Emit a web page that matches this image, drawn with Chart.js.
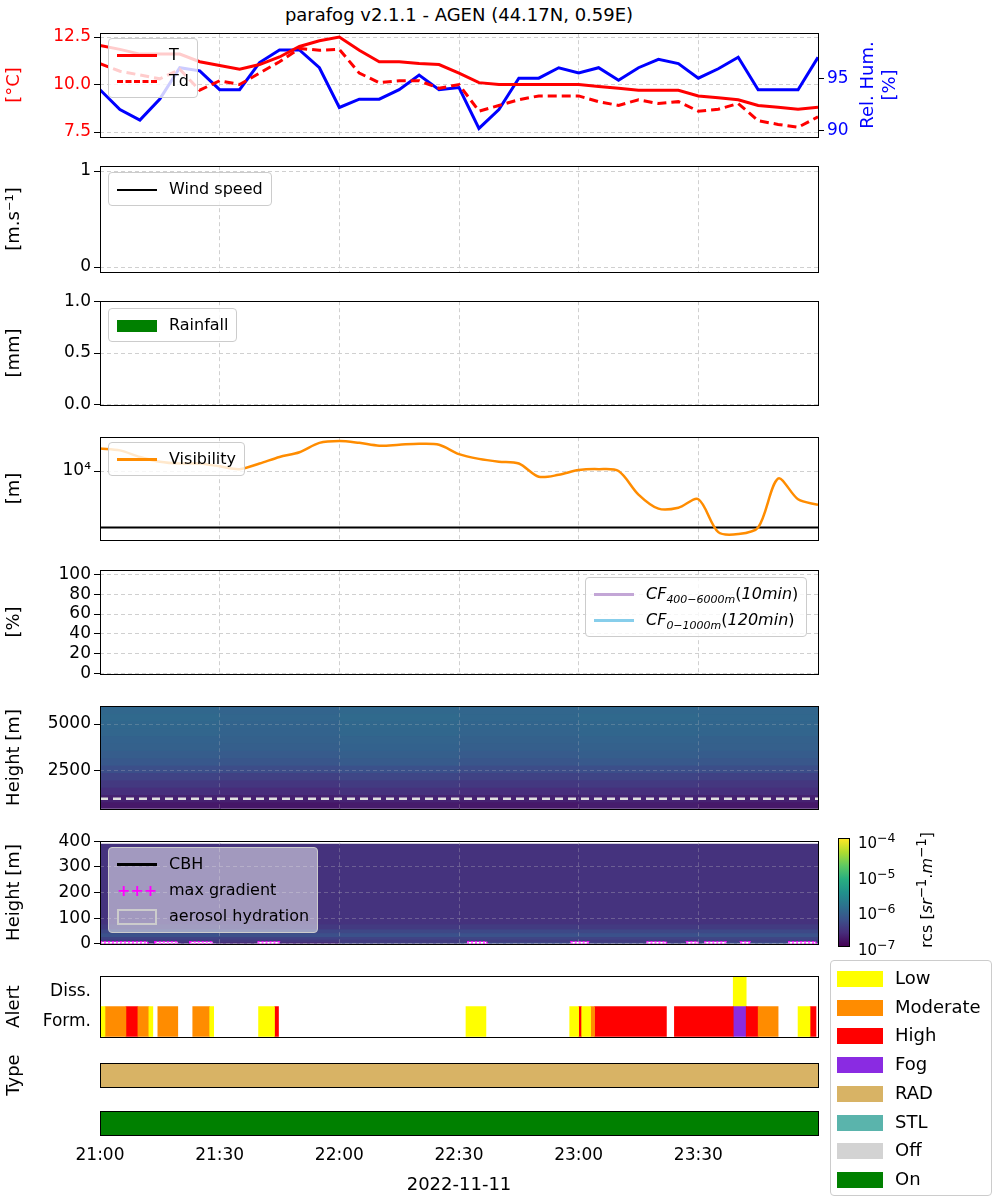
<!DOCTYPE html>
<html>
<head>
<meta charset="utf-8">
<script src="https://cdn.jsdelivr.net/npm/chart.js@4.4.1/dist/chart.umd.min.js"></script>
<style>
  body { margin:0; width:1000px; height:1200px; background:#fff; position:relative; font-family:"DejaVu Sans", sans-serif; overflow:hidden; }
  canvas { position:absolute; left:0; }
  .lg { position:absolute; background:rgba(255,255,255,0.8); border:1px solid #ccc; border-radius:4px; font-size:16px; color:#000; padding:3px 8px; }
  .lg div { height:26px; line-height:26px; white-space:nowrap; }
  .sw { display:inline-block; width:40px; vertical-align:middle; margin-right:12px; }
  .txt { position:absolute; white-space:nowrap; }
</style>
</head>
<body>
<div class="txt" style="left:0;width:918px;top:4px;text-align:center;font-size:18px;">parafog v2.1.1 - AGEN (44.17N, 0.59E)</div>

<canvas id="c1"></canvas><canvas id="c2"></canvas><canvas id="c3"></canvas><canvas id="c4"></canvas>
<canvas id="c5"></canvas><canvas id="c6"></canvas><canvas id="c7"></canvas><canvas id="c8"></canvas>
<canvas id="c9"></canvas><canvas id="c10"></canvas>

<div class="txt" style="transform:rotate(-90deg);transform-origin:0 0;color:#00f;font-size:18px;text-align:center;width:110px;line-height:22px;left:856px;top:140px;">Rel. Hum.<br>[%]</div>

<!-- legends -->
<div class="lg" style="left:108px;top:38px;">
  <div><span class="sw" style="border-top:3px solid #f00;"></span>T</div>
  <div><span class="sw" style="border-top:3px dashed #f00;"></span>Td</div>
</div>
<div class="lg" style="left:108px;top:172px;"><div><span class="sw" style="border-top:2px solid #000;"></span>Wind speed</div></div>
<div class="lg" style="left:108px;top:308px;"><div><span class="sw" style="height:12px;background:#008000;"></span>Rainfall</div></div>
<div class="lg" style="left:108px;top:442px;"><div><span class="sw" style="border-top:3px solid #ff8c00;"></span>Visibility</div></div>
<div class="lg" style="left:585px;top:577px;">
  <div><span class="sw" style="border-top:3px solid #c3a6d6;"></span><i>CF</i><sub style="font-size:11px"><i>400−6000m</i></sub>(<i>10min</i>)</div>
  <div><span class="sw" style="border-top:3px solid #87ceeb;"></span><i>CF</i><sub style="font-size:11px"><i>0−1000m</i></sub>(<i>120min</i>)</div>
</div>
<div class="lg" style="left:108px;top:847px;background:rgba(255,255,255,0.5);">
  <div><span class="sw" style="border-top:3px solid #000;"></span>CBH</div>
  <div><span class="sw" style="color:#f0f;font-weight:bold;border:none;text-align:center;">+++</span>max gradient</div>
  <div><span class="sw" style="height:12px;border:2px solid #ccc;width:36px;"></span>aerosol hydration</div>
</div>

<!-- colorbar -->
<div style="position:absolute;left:838px;top:838px;width:12px;height:109px;border:1px solid #000;box-sizing:border-box;background:linear-gradient(to top,#440154,#472d7b,#3b528b,#2c728e,#21918c,#28ae80,#5ec962,#addc30,#fde725);"></div>
<div class="txt" style="left:858px;top:830px;font-size:15px;">10<sup>−4</sup></div>
<div class="txt" style="left:858px;top:866px;font-size:15px;">10<sup>−5</sup></div>
<div class="txt" style="left:858px;top:901px;font-size:15px;">10<sup>−6</sup></div>
<div class="txt" style="left:858px;top:937px;font-size:15px;">10<sup>−7</sup></div>
<div class="txt" style="left:914px;top:950px;transform:rotate(-90deg);transform-origin:0 0;font-size:16px;width:120px;text-align:center;">rcs [<i>sr</i><sup>−1</sup>.<i>m</i><sup>−1</sup>]</div>

<!-- right legend -->
<div id="rlg" style="position:absolute;left:830px;top:960px;width:160px;height:234px;border:1px solid #ccc;border-radius:4px;font-size:18px;"></div>

<script>
// ---- data ----
const timeMin = [0,5,10,15,20,25,30,35,40,45,50,55,60,65,70,75,80,85,90,95,100,105,110,115,120,125,130,135,140,145,150,155,160,165,170,175,180];
const temp = [12.05,11.85,11.6,11.6,11.6,11.2,11.0,10.8,11.05,11.45,12.0,12.3,12.5,11.8,11.2,11.2,11.1,11.05,10.6,10.1,10.0,10.0,10.0,10.0,10.0,9.9,9.8,9.7,9.7,9.7,9.4,9.3,9.2,8.9,8.8,8.7,8.8];
const dewPoint = [11.1,10.7,10.5,10.3,10.8,9.7,10.2,10.0,10.6,11.2,11.9,11.8,11.85,10.6,10.1,10.2,10.2,9.8,10.0,8.6,8.9,9.2,9.4,9.4,9.4,9.1,8.9,9.2,9.0,9.1,8.6,8.7,9.0,8.1,7.9,7.75,8.3];
const relHum = [93.9,92.0,91.0,93.0,96.0,95.7,93.9,93.9,96.5,97.7,97.7,96.0,92.2,93.0,93.0,93.9,95.3,93.9,94.1,90.2,92.0,95.0,95.0,96.0,95.5,96.0,94.8,96.0,96.8,96.4,95.0,95.9,97.0,93.9,93.9,93.9,97.0];
const visibility = [25119,23270,17783,14678,13594,13594,12115,10798,13594,17783,21544,31623,34145,31623,28184,29286,30430,29286,19953,16448,14678,13594,7943,8577,10391,10798,10000,3831,2154,2239,3162,826,764,1000,7356,3162,2512];
const visThreshold = 1000;

const heatTimeEdges = [0,30,60,90,120,150,180];
const heatHeightEdges = [400,800,1200,1600,2000,2400,2800,3200,3600,4000,4400,4800,5200,5600,6000];
const heatValues = [
  [-6.80,-6.82,-6.78,-6.80,-6.76,-6.80],
  [-6.72,-6.74,-6.70,-6.72,-6.69,-6.72],
  [-6.60,-6.63,-6.57,-6.61,-6.59,-6.60],
  [-6.50,-6.53,-6.48,-6.51,-6.49,-6.52],
  [-6.40,-6.43,-6.37,-6.41,-6.39,-6.42],
  [-6.28,-6.30,-6.26,-6.30,-6.28,-6.29],
  [-6.18,-6.20,-6.15,-6.20,-6.17,-6.19],
  [-6.12,-6.14,-6.10,-6.14,-6.11,-6.13],
  [-6.08,-6.10,-6.06,-6.10,-6.07,-6.09],
  [-6.06,-6.08,-6.04,-6.08,-6.05,-6.07],
  [-6.02,-6.05,-6.00,-6.04,-6.01,-6.03],
  [-6.00,-6.04,-5.99,-6.03,-6.00,-6.02],
  [-5.98,-6.02,-5.97,-6.00,-5.98,-6.00],
  [-6.00,-6.04,-5.99,-6.02,-6.00,-6.02]
];
const lowHeightEdges = [0,10,20,30,45,60,80,390];
const lowValues = [
  [-6.60,-6.65,-6.45,-6.35,-6.40,-6.30],
  [-6.50,-6.52,-6.48,-6.45,-6.47,-6.42],
  [-6.40,-6.42,-6.40,-6.38,-6.40,-6.38],
  [-6.25,-6.27,-6.26,-6.25,-6.26,-6.24],
  [-6.35,-6.37,-6.36,-6.35,-6.36,-6.35],
  [-6.48,-6.50,-6.49,-6.48,-6.49,-6.48],
  [-6.56,-6.57,-6.56,-6.57,-6.56,-6.57]
];
const hydrationSegs = [[0,12],[13.75,19.5],[22.5,28.25],[39.5,45],[92,97],[118,122.5],[137,142],[147,150],[151.5,157],[160.5,163],[172.5,179.5]];

const alertLow = [[0,1.25],[12.25,13.25],[27.5,28.5],[39.75,43.75],[91.75,96.75],[117.75,120],[120.75,123],[175,178]];
const alertModerate = [[1.25,6.5],[9.5,12.25],[14.5,19.5],[23.25,27.5],[123,124],[165,170]];
const alertHigh = [[6.5,9.5],[43.75,44.75],[120,120.75],[124,142],[144,158.75],[162,165],[178,179.5]];
const alertFog = [[158.75,162]];
const dissLow = [[158.75,162]];
const typeRad = [[0,180]];
const stateOn = [[0,180]];

const legendNames = ['Low','Moderate','High','Fog','RAD','STL','Off','On'];
const legendColors = ['#ffff00','#ff8c00','#ff0000','#8a2be2','#d8b365','#5ab4ac','#d3d3d3','#008000'];

// ---- helpers ----
const viridis = ['#440154','#472d7b','#3b528b','#2c728e','#21918c','#28ae80','#5ec962','#addc30','#fde725'];
function cmap(logv) {
  let t = Math.min(1, Math.max(0, (logv + 7) / 3)) * (viridis.length - 1);
  let i = Math.min(viridis.length - 2, Math.floor(t)), f = t - i;
  const a = viridis[i], b = viridis[i+1];
  const c = k => Math.round(parseInt(a.substr(k,2),16)*(1-f) + parseInt(b.substr(k,2),16)*f);
  return 'rgb(' + c(1) + ',' + c(3) + ',' + c(5) + ')';
}
function hhmm(v) {
  let m = 21*60 + v;
  return String(Math.floor(m/60)).padStart(2,'0') + ':' + String(m%60).padStart(2,'0');
}
function xy(ys) { return timeMin.map((t,i) => ({x:t, y:ys[i]})); }
function fixed(vals) { return s => { s.ticks = vals.map(v => ({value:v})); }; }

Chart.defaults.font.family = '"DejaVu Sans", sans-serif';
Chart.defaults.font.size = 17;
Chart.defaults.color = '#000';
Chart.defaults.animation = false;

const boxPlugin = {
  id: 'box',
  beforeDraw(chart) {
    const o = chart.options.plugins.heat;
    if (!o) return;
    const ctx = chart.ctx, xs = chart.scales.x, ys = chart.scales.y, a = chart.chartArea;
    ctx.save();
    ctx.beginPath(); ctx.rect(a.left, a.top, a.right - a.left, a.bottom - a.top); ctx.clip();
    o.values.forEach((row, r) => row.forEach((v, c) => {
      const x0 = xs.getPixelForValue(o.tEdges[c]), x1 = xs.getPixelForValue(o.tEdges[c+1]);
      const y0 = ys.getPixelForValue(o.hEdges[r]), y1 = ys.getPixelForValue(o.hEdges[r+1]);
      ctx.fillStyle = cmap(v);
      ctx.fillRect(x0, y1, x1 - x0 + 1, y0 - y1 + 1);
    }));
    (o.segs || []).forEach(s => {
      const x0 = xs.getPixelForValue(s[0]), x1 = xs.getPixelForValue(s[1]);
      const y0 = ys.getPixelForValue(0), y1 = ys.getPixelForValue(8);
      ctx.fillStyle = '#fff'; ctx.fillRect(x0, y1, x1 - x0, y0 - y1);
      ctx.strokeStyle = '#f0f'; ctx.lineWidth = 1.5; ctx.setLineDash([2,2]); ctx.strokeRect(x0, y1, x1 - x0, y0 - y1);
    });
    ctx.restore();
  },
  afterDraw(chart) {
    const a = chart.chartArea, ctx = chart.ctx;
    ctx.save(); ctx.strokeStyle = '#000'; ctx.lineWidth = 1; ctx.setLineDash([]);
    ctx.strokeRect(Math.round(a.left)+0.5, Math.round(a.top)+0.5, Math.round(a.right-a.left), Math.round(a.bottom-a.top));
    ctx.restore();
  }
};
Chart.register(boxPlugin);

function xScale(showTicks, grid, gridColor) {
  return {
    type:'linear', min:0, max:180,
    afterBuildTicks: fixed([0,30,60,90,120,150]),
    ticks: { display: showTicks, callback: v => hhmm(v), padding: 4, maxRotation: 0, autoSkip:false },
    grid: { display: grid, color: gridColor || '#d0d0d0', drawTicks: showTicks, tickLength: 6, tickColor:'#000' },
    border: { display:false, dash:[4,3] },
    title: showTicks ? { display:true, text:'2022-11-11', font:{size:18}, padding:{top:8} } : {display:false},
    afterFit: s => { s.height = showTicks ? 65 : 0; }
  };
}
function yScale(o) {
  return Object.assign({
    type:'linear',
    grid: { color:'#d0d0d0', drawTicks:true, tickLength:6, tickColor:'#000' },
    border: { display:false, dash:[4,3] },
    afterFit: s => { s.width = 100; }
  }, o);
}
function yTitle(text, color) {
  return { display:true, text:text, color: color || '#000', font:{size:18}, padding:{bottom:4} };
}
function plainTicks(extra) { return Object.assign({ autoSkip:false, callback: v => String(v) }, extra || {}); }

function makeChart(id, top, h, type, data, scales, extra, bottomAxis) {
  const cv = document.getElementById(id);
  const ch = bottomAxis ? 1200 - (top - 10) : h + 20;
  cv.width = 1000; cv.height = ch; cv.style.top = (top - 10) + 'px';
  const rightPad = scales.y2 ? 0 : 182;
  return new Chart(cv, {
    type: type, data: data,
    options: Object.assign({
      responsive:false, maintainAspectRatio:false,
      layout: { padding: { top:10, bottom: bottomAxis ? 0 : 10, right: rightPad, left:0 } },
      plugins: { legend:{display:false}, tooltip:{enabled:false} },
      scales: scales
    }, extra || {})
  });
}

// ---- panel 1: T, Td, RH ----
makeChart('c1', 30, 110, 'line', { datasets: [
  { data: xy(temp), borderColor:'#f00', borderWidth:3, pointRadius:0, yAxisID:'y' },
  { data: xy(dewPoint), borderColor:'#f00', borderWidth:3, borderDash:[9,5], pointRadius:0, yAxisID:'y' },
  { data: xy(relHum), borderColor:'#00f', borderWidth:3, pointRadius:0, yAxisID:'y2' }
]}, {
  x: xScale(false, true),
  y: yScale({ min:7.25, max:12.7, afterBuildTicks: fixed([7.5,10,12.5]),
     ticks:{ color:'#f00', autoSkip:false, callback: v => v.toFixed(1) }, title: yTitle('[°C]', '#f00') }),
  y2: { type:'linear', position:'right', min:89.4, max:99.3,
     afterBuildTicks: fixed([90,95]),
     ticks:{ color:'#00f', autoSkip:false }, grid:{ drawOnChartArea:false, tickLength:6, tickColor:'#000' },
     border:{display:false}, afterFit: s => { s.width = 182; } }
});

// ---- panel 2: wind ----
makeChart('c2', 163, 112, 'line', { datasets: [{ data: [], borderColor:'#000' }] }, {
  x: xScale(false, true),
  y: yScale({ min:-0.05, max:1.05, afterBuildTicks: fixed([0,1]), ticks: plainTicks(),
     title: yTitle('[m.s⁻¹]') })
});

// ---- panel 3: rainfall ----
makeChart('c3', 298, 110, 'line', { datasets: [{ data: [], backgroundColor:'#008000' }] }, {
  x: xScale(false, true),
  y: yScale({ min:0, max:1, afterBuildTicks: fixed([0,0.5,1]),
     ticks:{ autoSkip:false, callback: v => v.toFixed(1) }, title: yTitle('[mm]') })
});

// ---- panel 4: visibility ----
makeChart('c4', 434, 109, 'line', { datasets: [
  { data: xy(visibility), borderColor:'#ff8c00', borderWidth:2.5, pointRadius:0, tension:0.3 },
  { data: [{x:0,y:visThreshold},{x:180,y:visThreshold}], borderColor:'#000', borderWidth:2, pointRadius:0 }
]}, {
  x: xScale(false, true),
  y: yScale({ type:'logarithmic', min:605, max:39800,
     afterBuildTicks: fixed([10000]),
     ticks:{ autoSkip:false, callback: v => '10⁴' }, title: yTitle('[m]') })
});

// ---- panel 5: cloud fraction ----
makeChart('c5', 567, 110, 'line', { datasets: [
  { data: [], borderColor:'#c3a6d6' }, { data: [], borderColor:'#87ceeb' }
]}, {
  x: xScale(false, true),
  y: yScale({ min:0, max:104, afterBuildTicks: fixed([0,20,40,60,80,100]), ticks: plainTicks(),
     title: yTitle('[%]') })
});

// ---- panel 6: rcs 400-6000 m ----
makeChart('c6', 703, 109, 'line', { datasets: [
  { data: [{x:0,y:950},{x:180,y:950}], borderColor:'#e0e0e0', borderWidth:2.5, borderDash:[8,5], pointRadius:0 }
]}, {
  x: xScale(false, true, 'rgba(200,200,200,0.25)'),
  y: yScale({ min:400, max:5970, afterBuildTicks: fixed([2500,5000]), ticks: plainTicks(),
     grid:{ color:'rgba(200,200,200,0.25)', tickLength:6, tickColor:'#000' }, title: yTitle('Height [m]') })
}, { plugins: { legend:{display:false}, tooltip:{enabled:false},
     heat: { tEdges: heatTimeEdges, hEdges: heatHeightEdges, values: heatValues } } });

// ---- panel 7: rcs 0-400 m ----
makeChart('c7', 838, 109, 'line', { datasets: [{ data: [], borderColor:'#000' }] }, {
  x: xScale(false, true, 'rgba(200,200,200,0.3)'),
  y: yScale({ min:0, max:400, afterBuildTicks: fixed([0,100,200,300,400]), ticks: plainTicks(),
     grid:{ color:'rgba(200,200,200,0.3)', tickLength:6, tickColor:'#000' }, title: yTitle('Height [m]') })
}, { plugins: { legend:{display:false}, tooltip:{enabled:false},
     heat: { tEdges: heatTimeEdges, hEdges: lowHeightEdges, values: lowValues, segs: hydrationSegs } } });

// ---- panels 8-10: alert, type, state ----
function segData(list, cat) { return list.map(s => ({x:s, y:cat})); }
function barSet(list, cat, color) {
  return { data: segData(list, cat), backgroundColor: color, borderWidth:0, grouped:false, barPercentage:1, categoryPercentage:1 };
}
function catScale(labels, show, title) {
  return { type:'category', labels: labels, offset:true,
    ticks:{ display: show }, grid:{ display:false, drawTicks: show, tickLength:6 },
    border:{ display:false }, title: title ? yTitle(title) : {display:false},
    afterFit: s => { s.width = 100; } };
}
const barOpts = { indexAxis:'y' };

makeChart('c8', 973, 67, 'bar', { datasets: [
  barSet(alertLow, 'Form.', '#ffff00'), barSet(alertModerate, 'Form.', '#ff8c00'),
  barSet(alertHigh, 'Form.', '#ff0000'), barSet(alertFog, 'Form.', '#8a2be2'),
  barSet(dissLow, 'Diss.', '#ffff00')
]}, { x: xScale(false, false), y: catScale(['Diss.','Form.'], true, 'Alert') }, barOpts);

makeChart('c9', 1063, 24, 'bar', { datasets: [ barSet(typeRad, 'RAD', '#d8b365') ] },
  { x: xScale(false, false), y: catScale(['RAD'], false, 'Type') }, barOpts);

makeChart('c10', 1111, 24, 'bar', { datasets: [ barSet(stateOn, 'On', '#008000') ] },
  { x: xScale(true, false), y: catScale(['On'], false, null) }, barOpts, true);

// ---- right legend ----
const rlg = document.getElementById('rlg');
legendNames.forEach((n, i) => {
  const d = document.createElement('div');
  d.style.cssText = 'position:absolute;left:6px;top:' + (7 + i*28.7) + 'px;height:20px;line-height:20px;';
  d.innerHTML = '<span style="display:inline-block;width:46px;height:16px;vertical-align:middle;margin-right:12px;background:' + legendColors[i] + '"></span>' + n;
  rlg.appendChild(d);
});
</script>
</body>
</html>
